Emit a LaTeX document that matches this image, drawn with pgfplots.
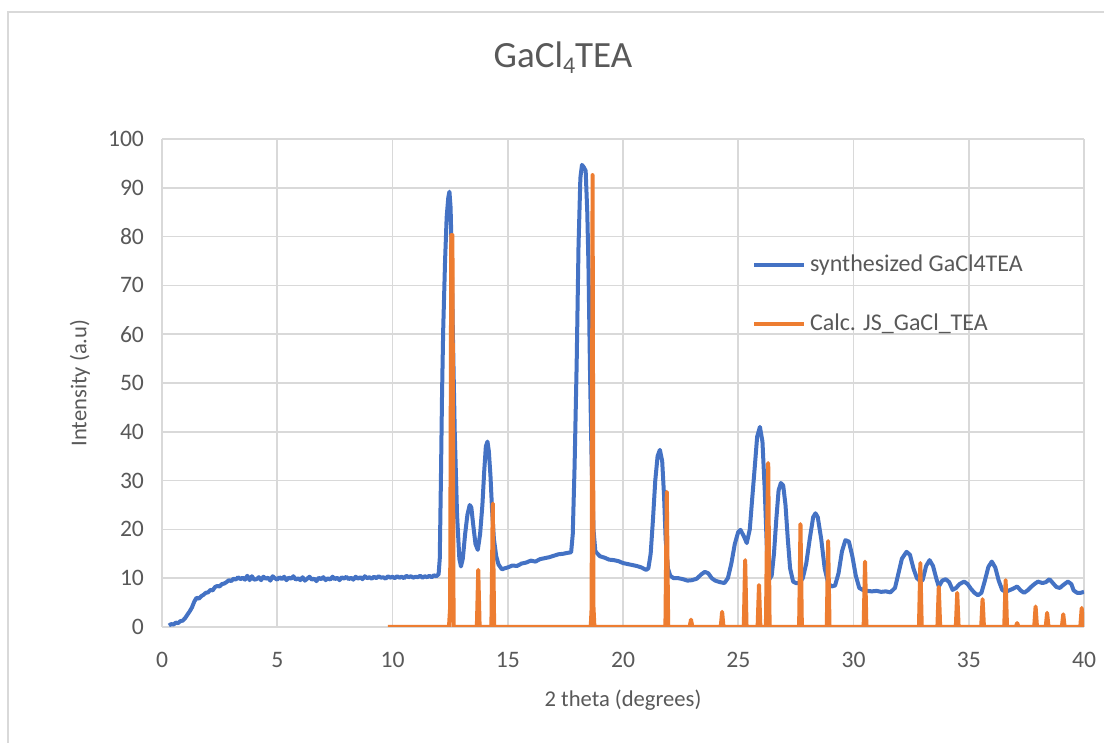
\documentclass[border=0pt]{standalone}
\usepackage{pgfplots}
\pgfplotsset{compat=1.18}
\usepackage{fontspec}
\setmainfont{Carlito}
\definecolor{xblue}{HTML}{4472C4}
\definecolor{xorange}{HTML}{ED7D31}
\definecolor{txt}{HTML}{595959}
\definecolor{gridc}{HTML}{D9D9D9}
\begin{document}
\begin{tikzpicture}[x=1pt,y=1pt]
\useasboundingbox (0,0) rectangle (552,371.5);
\fill[white] (0,0) rectangle (552,371.5);
\draw[gridc, line width=0.8pt] (4,0) -- (4,365.5) -- (552,365.5);
\begin{axis}[
  at={(81pt,58pt)}, anchor=south west,
  scale only axis, width=461pt, height=244pt,
  xmin=0, xmax=40, ymin=0, ymax=100,
  xtick={0,5,...,40}, ytick={0,10,...,100},
  grid=major, grid style={gridc, line width=0.8pt},
  axis line style={draw=none},
  tick style={draw=none},
  ticklabel style={font=\fontsize{11.8}{14}\selectfont, text=txt},
  /pgf/number format/assume math mode=true,
  yticklabel style={xshift=-5.5pt},
  xticklabel style={yshift=-9pt},
  legend style={at={(0.633,0.779)}, anchor=north west, draw=none, fill=none,
    font=\fontsize{12}{14}\selectfont, text=txt, row sep=15.5pt},
  legend cell align=left,
  legend image code/.code={\draw[#1, line width=2pt] (0pt,0pt) -- (25pt,0pt);},
]
\addplot[xblue, line width=2pt, line join=round] coordinates {
(0.3,0.3)(0.4,0.6)(0.5,0.5)(0.6,0.9)(0.7,0.8)(0.8,1.2)(0.9,1.3)(1.0,1.8)(1.1,2.5)(1.2,3.2)(1.3,4.0)(1.4,5.2)(1.5,6.0)(1.6,5.8)(1.7,6.3)(1.8,6.6)(1.9,7.0)(2.0,7.1)(2.1,7.6)(2.2,7.5)(2.3,8.2)(2.4,8.4)(2.5,8.3)(2.6,8.8)(2.7,8.9)(2.8,9.2)(2.9,9.6)(3.0,9.4)(3.1,9.9)(3.2,9.7)(3.3,10.2)(3.4,9.8)(3.5,10.1)(3.6,9.7)(3.7,10.5)(3.8,9.6)(3.9,10.4)(4.0,9.7)
(4.1,9.8)(4.2,10.2)(4.3,9.6)(4.4,10.3)(4.5,9.9)(4.6,10.1)(4.7,9.5)(4.8,10.4)(4.9,10.0)(5.0,9.7)
(5.1,10.2)(5.2,9.8)(5.3,10.3)(5.4,9.6)(5.5,10.1)(5.6,9.9)(5.7,10.4)(5.8,9.7)(5.9,10.0)(6.0,9.6)
(6.1,10.2)(6.2,9.5)(6.3,9.9)(6.4,10.3)(6.5,9.7)(6.6,9.9)(6.7,9.4)(6.8,10.1)(6.9,9.8)(7.0,10.2)
(7.1,9.6)(7.2,10.0)(7.3,9.7)(7.4,10.3)(7.5,9.8)(7.6,10.1)(7.7,9.6)(7.8,10.2)(7.9,9.9)(8.0,10.3)
(8.1,9.8)(8.2,10.1)(8.3,9.7)(8.4,10.3)(8.5,9.9)(8.6,10.2)(8.7,9.8)(8.8,10.4)(8.9,10.0)(9.0,10.2)
(9.1,9.9)(9.2,10.3)(9.3,10.0)(9.4,10.4)(9.5,10.1)(9.6,10.2)(9.7,9.9)(9.8,10.4)(9.9,10.1)(10.0,10.3)
(10.1,10.0)(10.2,10.4)(10.3,10.1)(10.4,10.3)(10.5,10.0)(10.6,10.5)(10.7,10.2)(10.8,10.4)(10.9,10.1)(11.0,10.3)
(11.1,10.2)(11.2,10.5)(11.3,10.1)(11.4,10.4)(11.5,10.2)(11.6,10.5)(11.7,10.2)(11.8,10.6)(11.9,10.4)
(12.0,10.8)(12.05,14)(12.1,30)(12.15,48)(12.2,61)(12.28,75)(12.35,84)(12.42,88)(12.47,89.2)(12.52,86)(12.56,78)(12.62,60)(12.7,40)(12.8,23)(12.9,14)(12.97,12.4)
(13.05,14)(13.15,19)(13.25,23)(13.35,25)(13.42,24.5)(13.5,21)(13.6,17)(13.7,15.8)(13.8,19)(13.9,25)(13.98,32)(14.05,37)(14.12,38)(14.18,36)(14.25,31)(14.32,24)(14.4,18)(14.5,14.5)(14.6,12.8)(14.75,11.8)(14.85,12)
(15.0,12.2)(15.2,12.6)(15.4,12.5)(15.6,13)(15.8,13.2)(16.0,13.6)(16.2,13.4)(16.4,13.9)(16.6,14.1)(16.8,14.3)(17.0,14.6)(17.2,14.9)(17.4,15.0)(17.6,15.2)(17.75,15.3)
(17.82,19)(17.9,33)(17.99,54)(18.07,78)(18.15,92)(18.22,94.7)(18.3,94.2)(18.38,93.5)(18.45,85)(18.5,74.5)(18.57,52)(18.64,33.6)(18.72,20)(18.8,15.5)(18.9,15)
(19.0,14.5)(19.2,14.2)(19.4,13.8)(19.6,13.7)(19.8,13.5)(20.0,13.1)(20.2,12.9)(20.4,12.7)(20.6,12.5)(20.8,12.2)(21.0,11.7)(21.1,12)(21.2,15)(21.3,22)(21.4,30)(21.5,35)(21.6,36.3)(21.7,34)(21.78,27)(21.85,18)(21.95,12)
(22.05,10.5)(22.2,10)(22.4,10)(22.6,9.8)(22.8,9.5)(23.0,9.6)(23.2,9.9)(23.4,10.8)(23.55,11.3)(23.7,11)(23.85,10)(24.0,9.5)(24.2,9.2)(24.4,9.0)(24.55,10)(24.7,13)(24.85,17)(25.0,19.5)(25.1,19.9)(25.25,18.5)(25.37,17.2)
(25.5,20)(25.6,26)(25.72,33)(25.82,39)(25.94,41)(26.05,38)(26.15,28)(26.25,15)(26.35,9.8)(26.45,10.5)(26.55,15)(26.65,22)(26.75,28)(26.85,29.5)(26.95,29)(27.05,25)(27.15,18)(27.25,12)(27.38,9.3)(27.5,9.0)(27.65,9)
(27.8,10)(27.95,13)(28.1,18)(28.25,22.5)(28.35,23.3)(28.45,22.5)(28.6,18)(28.75,12)(28.9,9)(29.05,8.3)(29.2,8.5)(29.35,11)(29.5,15.5)(29.65,17.8)(29.8,17.5)(29.95,14.5)(30.1,10.5)(30.25,8.0)(30.4,7.6)
(30.6,7.4)(30.8,7.3)(31.0,7.4)(31.2,7.2)(31.4,7.3)(31.6,7.1)(31.8,8)(31.95,11)(32.1,14)(32.3,15.4)(32.45,14.8)(32.6,12)(32.75,10)(32.9,9.4)(33.0,9.6)(33.15,12.5)(33.3,13.7)(33.45,12.5)(33.6,9.8)(33.7,8.3)
(33.85,9.5)(34.0,9.8)(34.15,9.2)(34.3,7.6)(34.45,8)(34.6,8.8)(34.8,9.3)(34.95,8.8)(35.1,7.8)(35.25,7.0)(35.4,6.5)(35.55,7.0)(35.7,9.5)(35.85,12.3)(36.0,13.4)(36.15,12.2)(36.3,9.5)(36.45,7.6)(36.6,7.2)
(36.75,7.5)(36.9,7.8)(37.1,8.3)(37.25,7.5)(37.4,7.0)(37.55,7.5)(37.7,8.2)(37.85,8.8)(38.0,9.3)(38.2,9.0)(38.35,9.2)(38.5,9.8)(38.65,9.0)(38.8,8.2)(38.95,8.0)(39.1,8.6)(39.3,9.3)(39.45,8.8)(39.55,7.5)(39.7,7.0)(39.85,7.0)(40.0,7.2)
};
\addlegendentry{synthesized GaCl4TEA}
\addplot[xorange, line width=2pt, line join=round] coordinates {
(9.8,0)
(12.45,0)(12.5,4)(12.55,80.3)(12.6,80.3)(12.65,0)
(13.66,0)(13.72,11.7)(13.78,0)
(14.29,0)(14.35,25.3)(14.41,0)
(18.6,0)(18.64,4)(18.68,92.6)(18.72,4)(18.76,0)
(21.84,0)(21.9,27.7)(21.96,0)
(22.89,0)(22.95,1.5)(23.01,0)
(24.24,0)(24.3,3.1)(24.36,0)
(25.24,0)(25.3,13.7)(25.36,0)
(25.84,0)(25.9,8.6)(25.96,0)
(26.2,0)(26.24,17)(26.3,33.6)(26.36,0)
(27.64,0)(27.7,21.1)(27.76,0)
(28.84,0)(28.9,17.6)(28.96,0)
(30.44,0)(30.5,13.4)(30.56,0)
(32.84,0)(32.9,13.1)(32.96,0)
(33.64,0)(33.7,8.2)(33.76,0)
(34.44,0)(34.5,7.0)(34.56,0)
(35.54,0)(35.6,5.7)(35.66,0)
(36.54,0)(36.6,9.6)(36.66,0)
(37.04,0)(37.1,0.8)(37.16,0)
(37.84,0)(37.9,4.2)(37.96,0)
(38.34,0)(38.4,2.9)(38.46,0)
(39.04,0)(39.1,2.6)(39.16,0)
(39.84,0)(39.9,3.9)(39.96,0)(40,0)
};
\addlegendentry{Calc. JS\_GaCl\_TEA}
\end{axis}
\node[text=txt, font=\fontsize{18.5}{22}\selectfont] at (281.5,342.5) {GaCl\raisebox{-0.35ex}{\fontsize{12}{14}\selectfont 4}TEA};
\node[text=txt, font=\fontsize{11.3}{13}\selectfont, rotate=90] at (40,180) {Intensity (a.u)};
\node[text=txt, font=\fontsize{11.3}{13}\selectfont] at (311.5,21.5) {2 theta (degrees)};
\end{tikzpicture}
\end{document}
